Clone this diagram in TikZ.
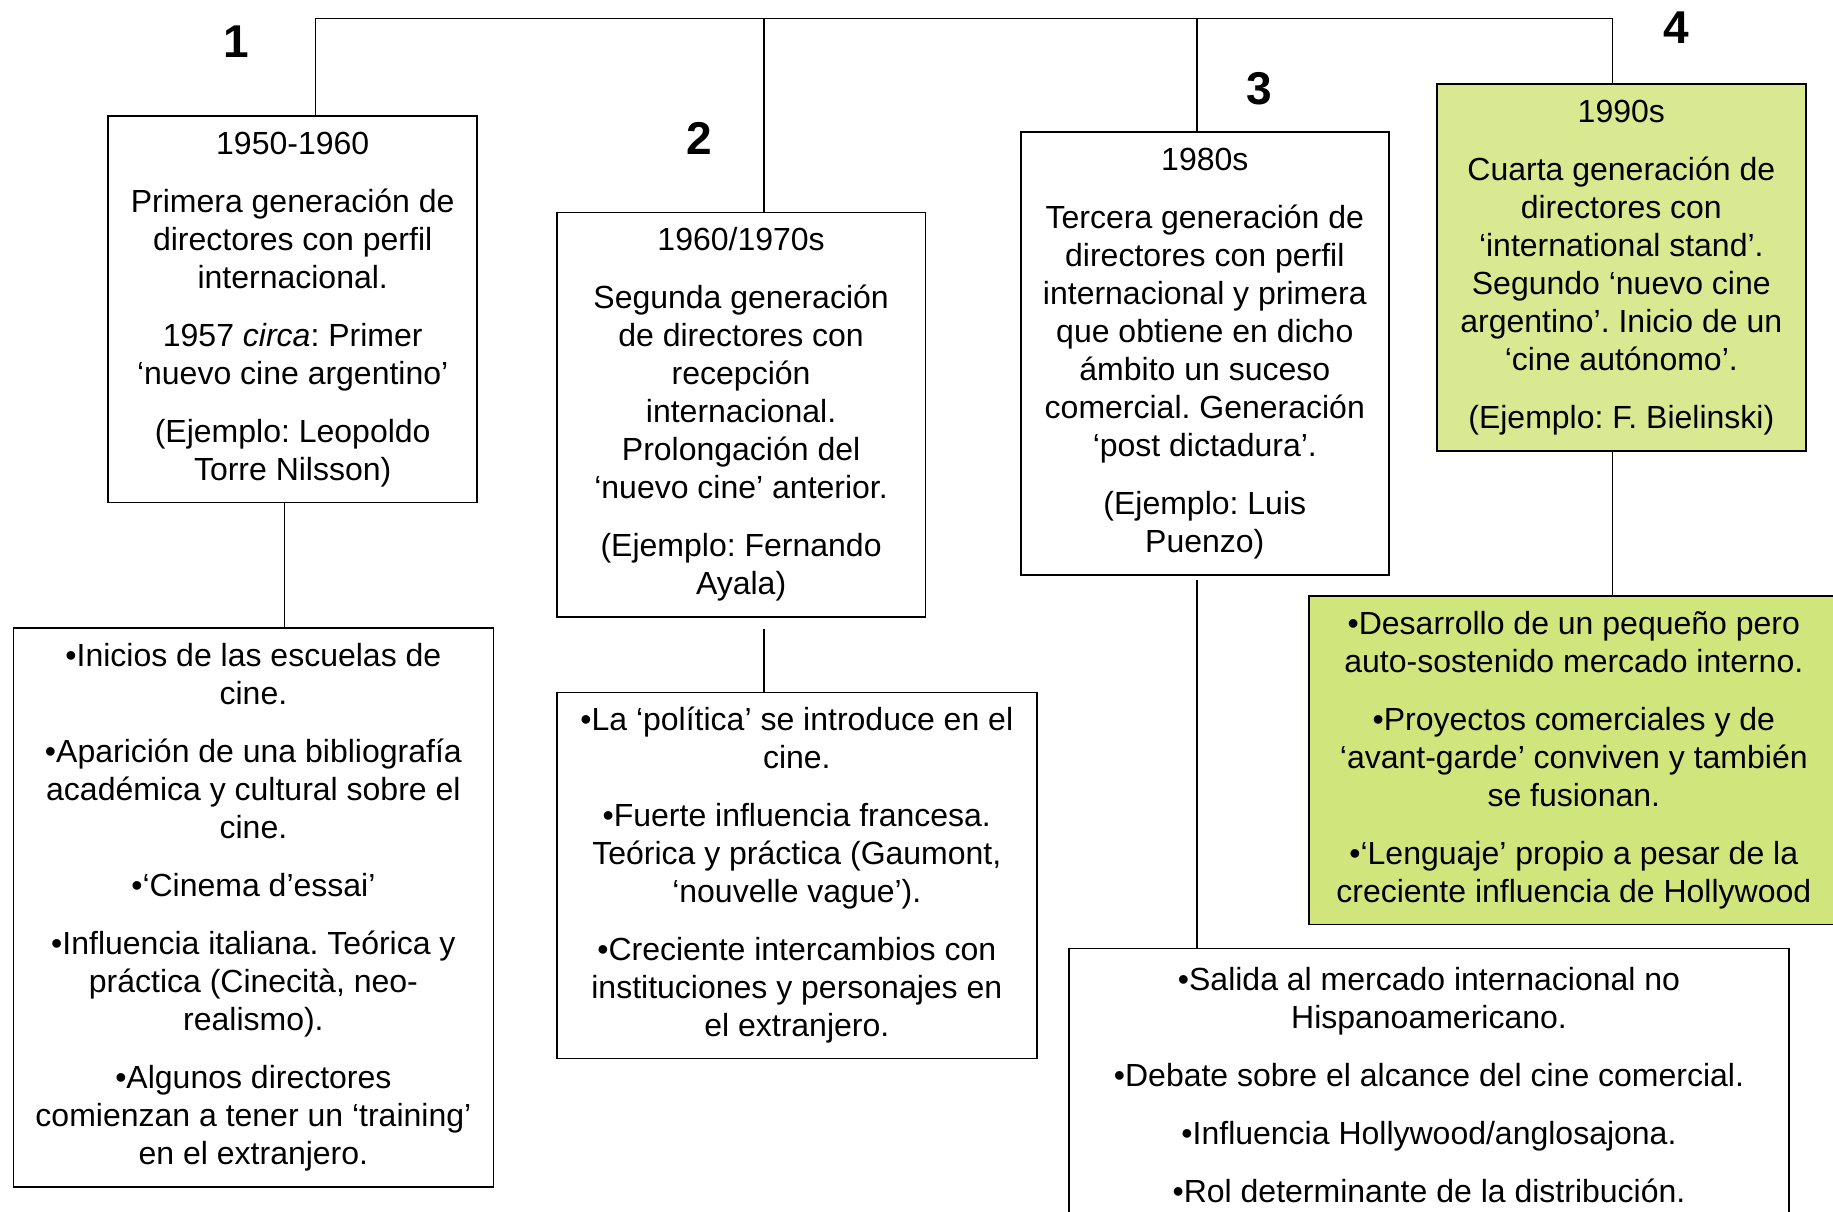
\documentclass[tikz,border=0pt]{standalone}
\usepackage{fontspec}
\setmainfont{Liberation Sans}
\usepackage{tikz}
\frenchspacing

\definecolor{genGreen}{RGB}{216,233,146}
\definecolor{listGreen}{RGB}{208,229,124}

\begin{document}
\begin{tikzpicture}[x=1pt,y=-1pt,
    gen_box/.style={rectangle,draw,line width=1.6pt,anchor=north west,align=center,inner sep=4pt,
        font=\fontsize{32}{38}\selectfont},
    list_box/.style={gen_box},
    num_label/.style={font=\fontsize{46}{50}\selectfont\bfseries},
    link/.style={line width=1.3pt}]
    \useasboundingbox (0,0) rectangle (1833,1212);

    % generations
    \node[gen_box,minimum width=369pt,minimum height=386pt] (g1) at (107.4,115.5)
        {1950-1960\\[20pt]Primera generación de\\directores con perfil\\internacional.\\[20pt]
         1957 \textit{circa}: Primer\\‘nuevo cine argentino’\\[20pt](Ejemplo: Leopoldo\\Torre Nilsson)};
    \node[gen_box,minimum width=368.6pt,minimum height=404.5pt] (g2) at (556,211.5)
        {1960/1970s\\[20pt]Segunda generación\\de directores con\\recepción\\internacional.\\Prolongación del\\‘nuevo cine’ anterior.\\[20pt]
         (Ejemplo: Fernando\\Ayala)};
    \node[gen_box,minimum width=368pt,minimum height=443pt] (g3) at (1020,131.3)
        {1980s\\[20pt]Tercera generación de\\directores con perfil\\internacional y primera\\que obtiene en dicho\\ámbito un suceso\\comercial. Generación\\‘post dictadura’.\\[20pt]
         (Ejemplo: Luis\\Puenzo)};
    \node[gen_box,fill=genGreen,minimum width=369pt,minimum height=367pt] (g4) at (1436,83)
        {1990s\\[20pt]Cuarta generación de\\directores con\\‘international stand’.\\Segundo ‘nuevo cine\\argentino’. Inicio de un\\‘cine autónomo’.\\[20pt]
         (Ejemplo: F. Bielinski)};

    % features
    \node[list_box,minimum width=480pt,minimum height=559pt] (l1) at (12.6,627.3)
        {•Inicios de las escuelas de\\cine.\\[20pt]•Aparición de una bibliografía\\académica y cultural sobre el\\cine.\\[20pt]
         •‘Cinema d’essai’\\[20pt]•Influencia italiana. Teórica y\\práctica (Cinecità, neo-\\realismo).\\[20pt]
         •Algunos directores\\comienzan a tener un ‘training’\\en el extranjero.};
    \node[list_box,minimum width=480pt,minimum height=366pt] (l2) at (556,691.7)
        {•La ‘política’ se introduce en el\\cine.\\[20pt]•Fuerte influencia francesa.\\Teórica y práctica (Gaumont,\\‘nouvelle vague’).\\[20pt]
         •Creciente intercambios con\\instituciones y personajes en\\el extranjero.};
    \node[list_box,minimum width=720.4pt,minimum height=273pt] (l3) at (1068,947.5)
        {•Salida al mercado internacional no\\Hispanoamericano.\\[20pt]•Debate sobre el alcance del cine comercial.\\[20pt]
         •Influencia Hollywood/anglosajona.\\[20pt]•Rol determinante de la distribución.};
    \node[list_box,fill=listGreen,minimum width=530pt,minimum height=328.5pt] (l4) at (1308,595.3)
        {•Desarrollo de un pequeño pero\\auto-sostenido mercado interno.\\[20pt]•Proyectos comerciales y de\\‘avant-garde’ conviven y también\\se fusionan.\\[20pt]
         •‘Lenguaje’ propio a pesar de la\\creciente influencia de Hollywood};

    % numbers
    \node[num_label] (n1) at (236,41.5) {1};
    \node[num_label] (n2) at (699,138) {2};
    \node[num_label] (n3) at (1259,89) {3};
    \node[num_label] (n4) at (1676,27.7) {4};

    % tree lines
    \coordinate (t1) at (315.7,18.6);
    \coordinate (t2) at (764,18.6);
    \coordinate (t3) at (1197,18.6);
    \coordinate (t4) at (1612.4,18.6);
    \coordinate (s1) at (284.6,0);
    \draw[link] (t1 |- g1.north) -- (t1) -- (t4) -- (t4 |- g4.north);
    \draw[link] (t2) -- (t2 |- g2.north);
    \draw[link] (t3) -- (t3 |- g3.north);
    \draw[link] (s1 |- g1.south) -- (s1 |- l1.north);
    \draw[link] ([yshift=-11pt]t2 |- g2.south) -- (t2 |- l2.north);
    \draw[link] ([yshift=-4.5pt]t3 |- g3.south) -- (t3 |- l3.north);
    \draw[link] (t4 |- g4.south) -- (t4 |- l4.north);
\end{tikzpicture}
\end{document}
